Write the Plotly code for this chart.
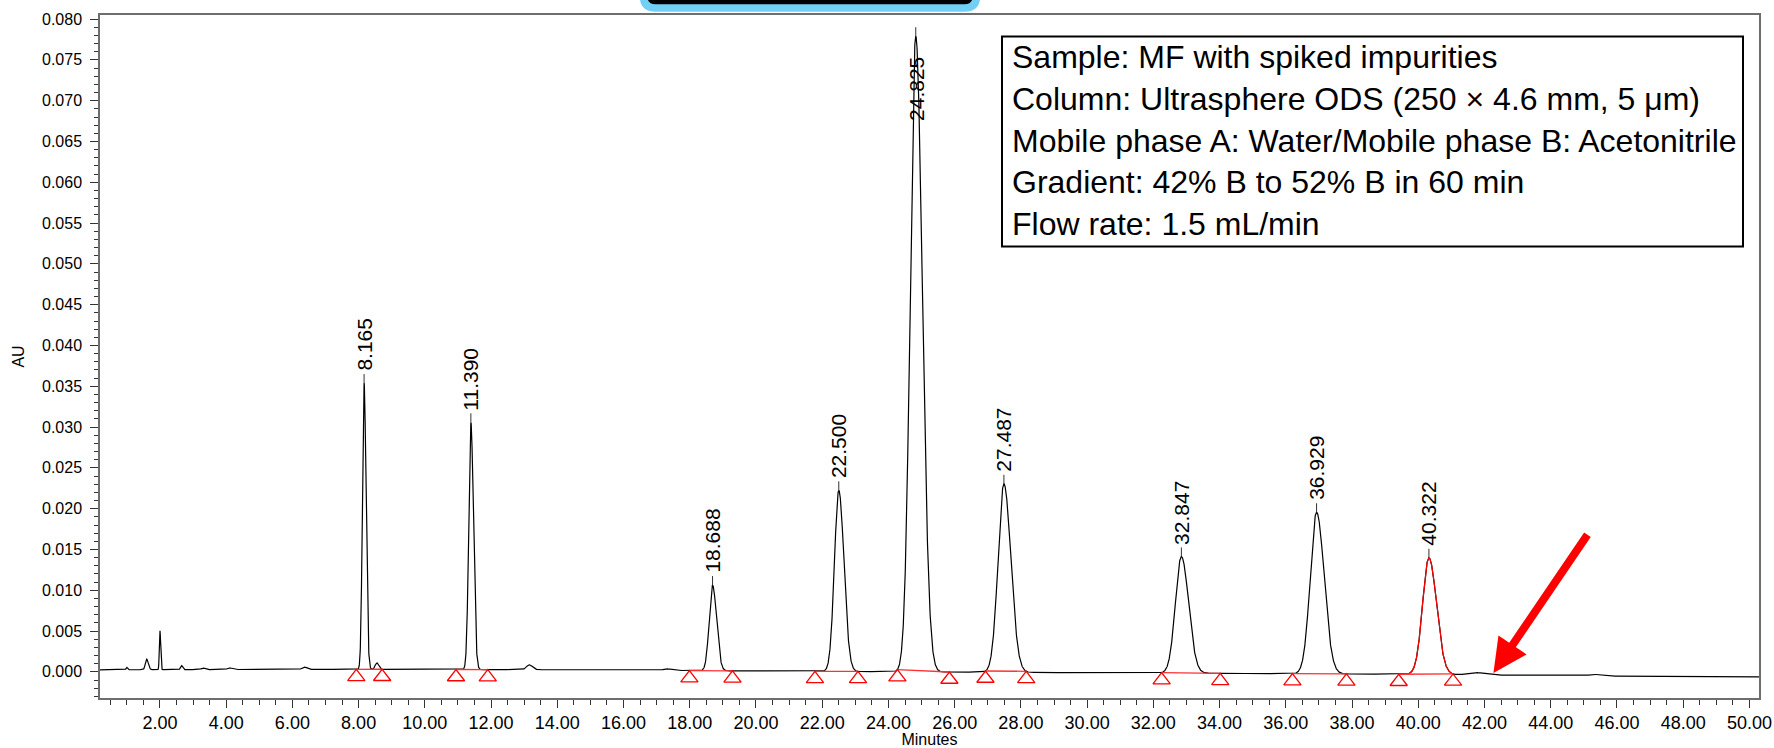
import numpy as np
import plotly.graph_objects as go

# ---------------- data ----------------
# baseline drift (minutes, AU)
baseline_t = [0.19, 5.0, 10.0, 15.0, 20.0, 25.0, 30.0, 35.0, 40.0, 45.0, 50.3]
baseline_au = [0.00025, 0.0003, 0.0003, 0.00025, 0.0001, 0.0, -0.0001, -0.0002, -0.0003, -0.0005, -0.0006]

# all peaks in the trace: retention time (min), height above baseline (AU), sigma (min)
peak_rt = [1.00, 1.60, 2.00, 2.65, 3.30, 4.10, 6.35, 8.165, 8.55, 11.390, 13.15, 17.30,
           18.688, 22.500, 24.825, 27.487, 32.847, 36.929, 40.322, 41.70, 45.30]
peak_height = [0.0003, 0.0013, 0.0048, 0.0005, 0.0002, 0.0002, 0.0003, 0.0351, 0.0008, 0.0303, 0.0006, 0.0002,
               0.0105, 0.0222, 0.0779, 0.0231, 0.0143, 0.0198, 0.0143, 0.0003, 0.0002]
peak_sigma = [0.02, 0.04, 0.018, 0.03, 0.05, 0.06, 0.06, 0.050, 0.05, 0.064, 0.08, 0.10,
              0.10, 0.13, 0.165, 0.175, 0.18, 0.19, 0.19, 0.20, 0.15]

# labelled (integrated) peaks
label_rt = [8.165, 11.390, 18.688, 22.500, 24.825, 27.487, 32.847, 36.929, 40.322]
label_text = ["8.165", "11.390", "18.688", "22.500", "24.825", "27.487", "32.847", "36.929", "40.322"]
integ_start = [7.93, 10.94, 17.99, 21.78, 24.27, 26.93, 32.25, 36.20, 39.41]
integ_end = [8.71, 11.90, 19.29, 23.08, 25.84, 28.16, 34.02, 37.83, 41.05]

# highlighted peak (red segment) and arrow (minutes, AU)
highlight_range = [39.45, 41.05]
arrow_head = [42.27, -0.00015]
arrow_tail = [45.14, 0.0170]

info_lines = [
    "Sample: MF with spiked impurities",
    "Column: Ultrasphere ODS (250 × 4.6 mm, 5 μm)",
    "Mobile phase A: Water/Mobile phase B: Acetonitrile",
    "Gradient: 42% B to 52% B in 60 min",
    "Flow rate: 1.5 mL/min",
]

# ---------------- build chromatogram ----------------
X0, X1 = 0.19, 50.29
Y0, Y1 = -0.0032, 0.0805


def signal(t):
    t = np.asarray(t, dtype=float)
    y = np.interp(t, baseline_t, baseline_au)
    for rt, h, s in zip(peak_rt, peak_height, peak_sigma):
        sig = np.where(t < rt, s, s * 1.2)
        y = y + h * np.exp(-0.5 * ((t - rt) / sig) ** 2)
    return y


t = np.linspace(X0, X1, 12000)
y = signal(t)

W, H = 1774, 748
ML, MR, MT, MB = 100, 15, 15, 50
PW, PH = W - ML - MR, H - MT - MB
AU_PER_PX = (Y1 - Y0) / PH

fig = go.Figure()

# main trace
fig.add_trace(go.Scatter(x=t, y=y, mode="lines", line=dict(color="black", width=1.2),
                         hoverinfo="skip", showlegend=False))

# red highlighted peak
m = (t >= highlight_range[0]) & (t <= highlight_range[1])
fig.add_trace(go.Scatter(x=t[m], y=y[m], mode="lines", line=dict(color="#ff0000", width=1.2),
                         hoverinfo="skip", showlegend=False))

# integration baselines
bx, by = [], []
for s, e in zip(integ_start, integ_end):
    bx += [s, e, None]
    by += [float(signal(s)), float(signal(e)), None]
fig.add_trace(go.Scatter(x=bx, y=by, mode="lines", line=dict(color="#ff3030", width=1.3),
                         hoverinfo="skip", showlegend=False))

# integration event markers (open triangles, apex on the baseline)
mx = integ_start + integ_end
my = [float(signal(v)) - 7.5 * AU_PER_PX for v in mx]
fig.add_trace(go.Scatter(x=mx, y=my, mode="markers",
                         marker=dict(symbol="triangle-up-open", size=15, color="#ff0000",
                                     line=dict(width=1.3, color="#ff0000")),
                         hoverinfo="skip", showlegend=False))

# apex dashes
dx, dy = [], []
apex = [float(signal(v)) for v in label_rt]
for rt, a in zip(label_rt, apex):
    dx += [rt, rt, None]
    dy += [a, a + 9 * AU_PER_PX, None]
fig.add_trace(go.Scatter(x=dx, y=dy, mode="lines", line=dict(color="#333333", width=1),
                         hoverinfo="skip", showlegend=False))

annotations = []
for rt, a, txt in zip(label_rt, apex, label_text):
    if a > 0.07:
        annotations.append(dict(x=rt, y=a, xref="x", yref="y", text=txt, showarrow=False,
                                textangle=-90, yanchor="top", xanchor="center", yshift=-20,
                                borderpad=0, font=dict(family="Liberation Sans, Arial", size=21, color="black")))
    else:
        annotations.append(dict(x=rt, y=a, xref="x", yref="y", text=txt, showarrow=False,
                                textangle=-90, yanchor="bottom", xanchor="center", yshift=11,
                                borderpad=0, font=dict(family="Liberation Sans, Arial", size=21, color="black")))

# arrow
annotations.append(dict(x=arrow_head[0], y=arrow_head[1], ax=arrow_tail[0], ay=arrow_tail[1],
                        xref="x", yref="y", axref="x", ayref="y", text="", showarrow=True,
                        arrowhead=2, arrowsize=0.85, arrowwidth=8, arrowcolor="#ff0000", standoff=0))


def px_to_paper_x(px):
    return (px - ML) / PW


def px_to_paper_y(py):
    return (H - MB - py) / PH


# info box text
line_centers = [57, 98.8, 140.6, 182.4, 224.2]
for txt, cy in zip(info_lines, line_centers):
    annotations.append(dict(x=px_to_paper_x(1010), y=px_to_paper_y(cy), xref="paper", yref="paper",
                            text=txt, showarrow=False, xanchor="left", yanchor="middle",
                            font=dict(family="Liberation Sans, Arial", size=32, color="black")))

shapes = [
    # info box border
    dict(type="rect", xref="paper", yref="paper",
         x0=px_to_paper_x(1002), x1=px_to_paper_x(1743),
         y0=px_to_paper_y(246.5), y1=px_to_paper_y(36.5),
         line=dict(color="black", width=2), fillcolor="rgba(0,0,0,0)"),
]

# decorative rounded tab at top (black with light-blue rim)
r = 12
lx, rx, by_, ty = 643.5, 976.5, 8.0, -30
path = (f"M {px_to_paper_x(lx)},{px_to_paper_y(ty)} "
        f"L {px_to_paper_x(lx)},{px_to_paper_y(by_ - r)} "
        f"Q {px_to_paper_x(lx)},{px_to_paper_y(by_)} {px_to_paper_x(lx + r)},{px_to_paper_y(by_)} "
        f"L {px_to_paper_x(rx - r)},{px_to_paper_y(by_)} "
        f"Q {px_to_paper_x(rx)},{px_to_paper_y(by_)} {px_to_paper_x(rx)},{px_to_paper_y(by_ - r)} "
        f"L {px_to_paper_x(rx)},{px_to_paper_y(ty)} Z")
shapes.append(dict(type="path", xref="paper", yref="paper", path=path,
                   fillcolor="black", line=dict(color="#72CFF5", width=7.5), layer="above"))

fig.update_layout(
    width=W, height=H,
    margin=dict(l=ML, r=MR, t=MT, b=MB, autoexpand=False),
    paper_bgcolor="white", plot_bgcolor="white",
    showlegend=False,
    annotations=annotations,
    shapes=shapes,
    font=dict(family="Liberation Sans, Arial", color="black"),
)

fig.update_xaxes(
    range=[X0, X1], showgrid=False, zeroline=False,
    showline=True, linecolor="#6e6e6e", linewidth=1.5, mirror=True,
    ticks="outside", ticklen=8, tickwidth=1, tickcolor="#333333",
    tick0=0, dtick=2, tickformat=".2f",
    minor=dict(ticks="outside", ticklen=5, dtick=0.5, tick0=0, tickcolor="#333333", tickwidth=1),
    tickfont=dict(family="Liberation Sans, Arial", size=18, color="black"),
    title=dict(text="Minutes", font=dict(family="Liberation Sans, Arial", size=16, color="black"), standoff=6),
)
fig.update_yaxes(
    range=[Y0, Y1], showgrid=False, zeroline=False,
    showline=True, linecolor="#6e6e6e", linewidth=1.5, mirror=True,
    ticks="outside", ticklen=8, tickwidth=1, tickcolor="#333333",
    tick0=0, dtick=0.005, tickformat=".3f",
    minor=dict(ticks="outside", ticklen=4, dtick=0.001, tick0=0, tickcolor="#333333", tickwidth=1),
    tickfont=dict(family="Liberation Sans, Arial", size=16, color="black"),
    ticklabelstandoff=5,
    title=dict(text="AU", font=dict(family="Liberation Sans, Arial", size=16, color="black"), standoff=13),
)

fig.write_html("out.html")
